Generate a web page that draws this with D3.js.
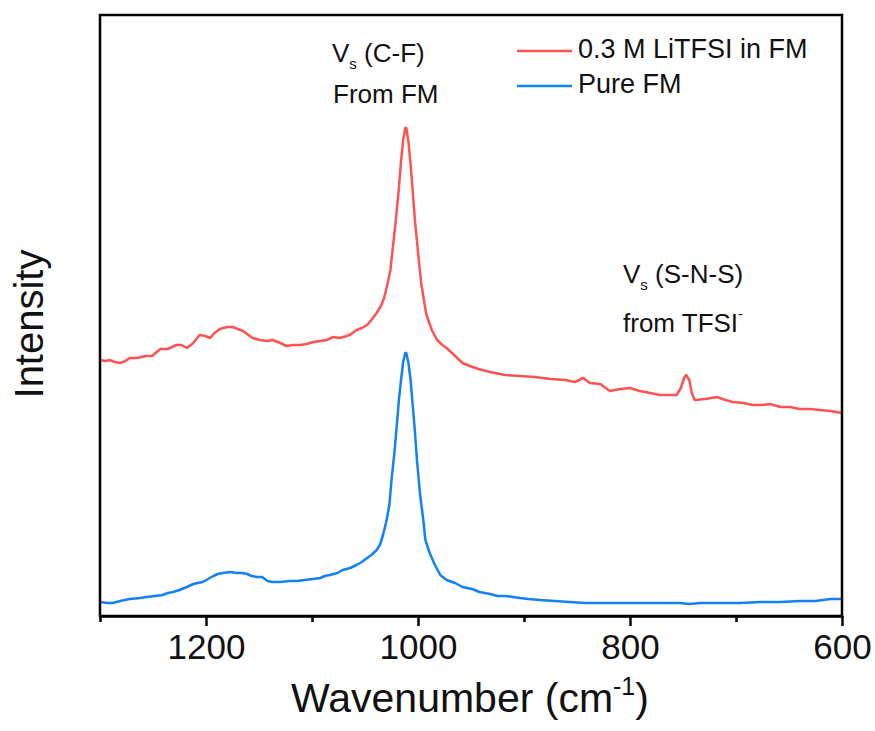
<!DOCTYPE html>
<html>
<head>
<meta charset="utf-8">
<script src="https://cdn.jsdelivr.net/npm/d3@7"></script>
<style>
  body { margin: 0; background: #fff; }
  text { font-family: "Liberation Sans", Arial, sans-serif; fill: #111; }
</style>
</head>
<body>
<script>
// x axis ticks
const majorTicks = [1200, 1000, 800, 600];
const minorTicks = [1300, 1100, 900, 700];

// 0.3 M LiTFSI in FM (red)
const litfsiWave = [1300, 1295, 1291, 1286, 1281, 1276, 1272, 1265, 1257, 1251, 1243, 1236, 1228, 1223, 1218, 1212,
  1206, 1201, 1196, 1192, 1187, 1180, 1175, 1170, 1165, 1160, 1156, 1149, 1142, 1137, 1130, 1124, 1118, 1111, 1105,
  1099, 1092, 1086, 1080, 1074, 1067, 1063, 1058, 1053, 1048, 1044, 1039, 1035, 1032, 1029, 1026, 1024, 1021, 1018,
  1016, 1014, 1012, 1011, 1009, 1007, 1005, 1003, 1000, 997, 994, 992, 987, 982, 977, 973, 965, 958, 951, 943, 932,
  918, 904, 890, 875, 861, 852, 844, 838, 828, 819, 809, 800, 791, 781, 772, 762, 756, 752, 749, 747, 744, 742, 739,
  729, 718, 710, 703, 693, 684, 675, 668, 658, 649, 640, 630, 621, 611, 600];
const litfsiInt = [256, 255, 256, 254, 253, 255, 258, 258, 260, 260, 267, 267, 271, 271, 268, 273,
  281, 280, 278, 283, 287, 289, 289, 287, 285, 281, 278, 276, 275, 276, 273, 270, 271, 271, 272,
  274, 275, 276, 279, 278, 280, 282, 286, 288, 291, 296, 303, 310, 318, 331, 346, 366, 395, 428,
  455, 476, 488, 488, 474, 452, 425, 397, 364, 333, 313, 301, 286, 276, 271, 268, 260, 253, 250, 247, 244,
  241, 240, 239, 237, 236, 234, 238, 233, 232, 225, 227, 228, 225, 223, 221, 221, 221, 228, 238, 241, 236, 224, 216,
  217, 219, 216, 214, 213, 211, 211, 212, 209, 209, 207, 207, 206, 205, 203];

// Pure FM (blue)
const pureWave = [1300, 1293, 1288, 1281, 1272, 1262, 1256, 1248, 1241, 1236, 1231, 1225, 1218, 1212, 1208, 1203,
  1198, 1193, 1189, 1184, 1177, 1171, 1166, 1161, 1157, 1152, 1147, 1142, 1137, 1130, 1121, 1114, 1107, 1099, 1092,
  1088, 1083, 1076, 1071, 1064, 1058, 1053, 1048, 1044, 1039, 1036, 1033, 1030, 1027, 1025, 1022, 1020, 1018, 1016,
  1014, 1012, 1011, 1009, 1007, 1005, 1003, 1001, 998, 995, 993, 989, 984, 979, 973, 965, 958, 949, 942, 932, 925,
  918, 910, 904, 896, 885, 871, 857, 842, 828, 809, 791, 772, 753, 744, 734, 715, 696, 677, 658, 640, 625, 611, 600];
const pureInt = [14, 13, 13, 15, 17, 18, 19, 20, 21, 23, 24, 26, 29, 32, 33, 34,
  37, 40, 42, 43, 44, 43, 43, 42, 40, 39, 39, 35, 34, 34, 35, 35, 36, 37, 38,
  40, 41, 43, 46, 48, 51, 54, 58, 61, 66, 71, 81, 94, 111, 136, 166, 191, 216, 236,
  254, 263, 263, 253, 236, 211, 186, 156, 121, 96, 76, 63, 51, 41, 36, 33, 29, 27, 24, 22, 20,
  20, 19, 18, 17, 16, 15, 14, 13, 13, 13, 13, 13, 13, 12, 13, 13, 13, 14, 14, 15, 15, 17, 17];

const series = [
  { name: '0.3 M LiTFSI in FM', wave: litfsiWave, val: litfsiInt, color: '#ff5252' },
  { name: 'Pure FM', wave: pureWave, val: pureInt, color: '#1282f2' }
];

const W = 875, H = 731;
const margin = { left: 100, right: 33, top: 15, bottom: 115 };

const svg = d3.select('body').append('svg')
  .attr('width', W)
  .attr('height', H);

const x = d3.scaleLinear().domain([1300, 600]).range([margin.left, W - margin.right]);
const y = d3.scaleLinear().domain([0, 601]).range([H - margin.bottom, margin.top]);

// curves
const line = d3.line()
  .x(d => x(d[0]))
  .y(d => y(d[1]));

series.forEach(s => {
  svg.append('path')
    .datum(d3.zip(s.wave, s.val))
    .attr('fill', 'none')
    .attr('stroke', s.color)
    .attr('stroke-width', 2.5)
    .attr('stroke-linejoin', 'round')
    .attr('d', line);
});

// frame
svg.append('rect')
  .attr('x', margin.left)
  .attr('y', margin.top)
  .attr('width', W - margin.left - margin.right)
  .attr('height', H - margin.top - margin.bottom)
  .attr('fill', 'none')
  .attr('stroke', '#000')
  .attr('stroke-width', 2.5);

// x axis
const xAxis = svg.append('g')
  .attr('transform', `translate(0,${H - margin.bottom})`)
  .call(d3.axisBottom(x).tickValues(majorTicks).tickSize(10).tickSizeOuter(0).tickPadding(8).tickFormat(d3.format('d')));
xAxis.select('.domain').attr('stroke-width', 2.5);
xAxis.selectAll('.tick line').attr('stroke-width', 2.5);
xAxis.selectAll('.tick text')
  .attr('font-size', 35)
  .attr('font-family', '"Liberation Sans", Arial, sans-serif')
  .attr('fill', '#111');

svg.append('g')
  .attr('transform', `translate(0,${H - margin.bottom})`)
  .call(d3.axisBottom(x).tickValues(minorTicks).tickSize(6).tickFormat(''))
  .call(g => g.select('.domain').remove())
  .selectAll('.tick line').attr('stroke-width', 2.5);

// axis titles
const xt = svg.append('text')
  .attr('x', 470)
  .attr('y', 712)
  .attr('text-anchor', 'middle')
  .attr('font-size', 41);
xt.append('tspan').text('Wavenumber (cm');
xt.append('tspan').attr('font-size', 25).attr('dy', -17).text('-1');
xt.append('tspan').attr('dy', 17).text(')');

svg.append('text')
  .attr('transform', 'translate(43,324) rotate(-90)')
  .attr('text-anchor', 'middle')
  .attr('font-size', 40)
  .text('Intensity');

// legend
series.forEach((s, i) => {
  const ly = 51 + i * 35;
  svg.append('line')
    .attr('x1', 517).attr('x2', 572)
    .attr('y1', ly).attr('y2', ly)
    .attr('stroke', s.color)
    .attr('stroke-width', 2.5);
  svg.append('text')
    .attr('x', 578)
    .attr('y', ly + 7)
    .attr('font-size', 27)
    .text(s.name);
});

// peak annotations
function vsLabel(px, py, rest) {
  const t = svg.append('text').attr('x', px).attr('y', py).attr('font-size', 26);
  t.append('tspan').text('V');
  t.append('tspan').attr('font-size', 15).attr('dy', 7).text('s');
  t.append('tspan').attr('dy', -7).text(' ' + rest);
}
vsLabel(332, 62, '(C-F)');
svg.append('text').attr('x', 333).attr('y', 103).attr('font-size', 26).text('From FM');

vsLabel(623, 283, '(S-N-S)');
const tf = svg.append('text').attr('x', 623).attr('y', 332).attr('font-size', 26);
tf.append('tspan').text('from TFSI');
tf.append('tspan').attr('font-size', 15).attr('dy', -13).text('-');
</script>
</body>
</html>
